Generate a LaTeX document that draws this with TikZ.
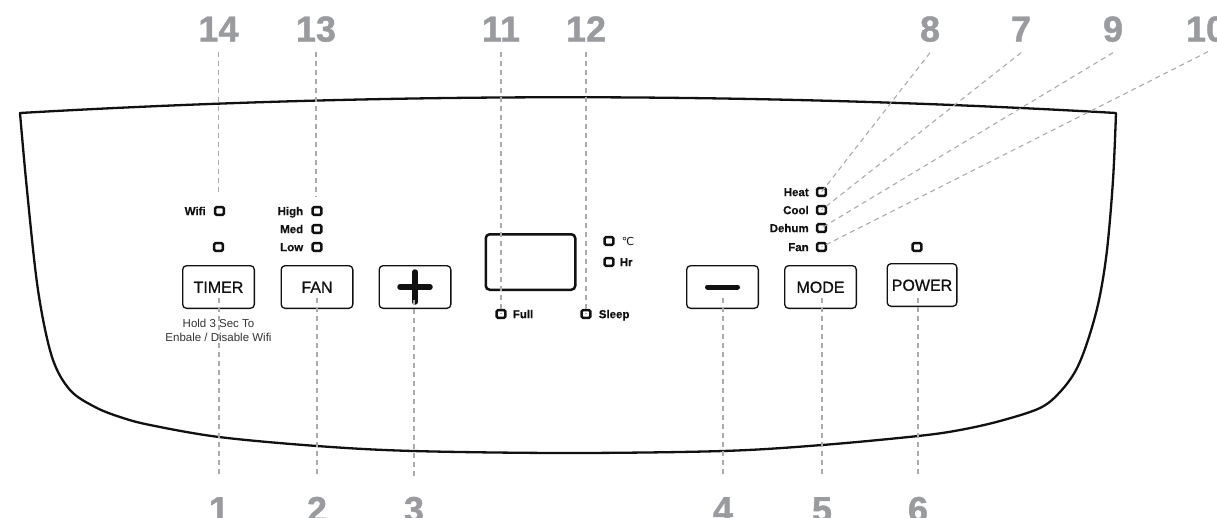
\documentclass[tikz,border=0pt]{standalone}
\usepackage{fontspec}
\setmainfont{Liberation Sans}
\newfontfamily\dejavu{DejaVu Sans}
\newfontfamily\numfont[FakeBold=1.2]{Liberation Sans Bold}
\newfontfamily\btnfont[FakeBold=0.9]{Liberation Sans}
\newfontfamily\lblfont[FakeBold=0.4]{Liberation Sans Bold}
\usetikzlibrary{calc}
\definecolor{numgray}{HTML}{9A9B9F}
\definecolor{leadgray}{HTML}{ABABAB}
\definecolor{ink}{HTML}{111111}
\definecolor{hintgray}{HTML}{333333}
\begin{document}
\begin{tikzpicture}[x=1pt,y=-1pt,
  num/.style={font=\numfont\fontsize{36}{36}\selectfont, text=numgray, inner sep=0pt, text height=26pt, text depth=0pt},
  lead/.style={draw=leadgray, line width=1.1pt, dash pattern=on 5pt off 4pt},
  led/.style={draw=ink, line width=2.4pt, rounded corners=1.4pt, minimum width=8.8pt, minimum height=7.8pt, inner sep=0pt},
  ledlbl/.style={font=\lblfont\fontsize{11.5}{12}\selectfont, text=ink, inner sep=0pt, text height=8.3pt, text depth=0pt},
  hint/.style={font=\fontsize{11.5}{12}\selectfont, text=hintgray, inner sep=0pt, anchor=base},
  btn/.style={draw=ink, line width=1.3pt, rounded corners=4pt, minimum width=71.7pt, minimum height=42.7pt, inner sep=0pt, font=\btnfont\fontsize{16}{16}\selectfont, text=ink, text height=11.5pt, text depth=0pt},
  bar/.style={draw=ink, line width=5pt, line cap=round},
  disp/.style={draw=ink, line width=2.5pt, rounded corners=4pt, minimum width=89.5pt, minimum height=55.5pt, inner sep=0pt},
  outline/.style={draw=ink, line width=2.3pt, line join=round}
]
\useasboundingbox (0,0) rectangle (1217,517);

% ---- numbers
\node[num] (n14) at (218.5,28.5) {14};
\node[num] (n13) at (316,28.5) {13};
\node[num] (n11) at (501,28.5) {11};
\node[num] (n12) at (586,28.5) {12};
\node[num] (n8) at (930,28.5) {8};
\node[num] (n7) at (1021,28.5) {7};
\node[num] (n9) at (1113,28.5) {9};
\node[num] (n10) at (1206,28.5) {10};
\node[num] (n1) at (219,509) {1};
\node[num] (n2) at (317,509) {2};
\node[num] (n3) at (414,509) {3};
\node[num] (n4) at (723,509) {4};
\node[num] (n5) at (822,509) {5};
\node[num] (n6) at (918,509) {6};

% ---- panel outline
\draw[outline] (20,113) .. controls (385,92) and (751,92) .. (1116,113)
  -- plot[smooth, tension=0.55] coordinates {(1116,113) (1113,180) (1107,250) (1099,300) (1088,340) (1076,370) (1060,392) (1040,408) (1000,421) (960,430) (918,436) (822,445) (723,451) (568,453) (413,451) (317,446) (219,437) (150,425) (120,417) (95,407) (70,390) (52,357) (38,290) (27,190) (20,113)}
  -- cycle;

% ---- LEDs
\node[led] (wifi) at (219.5,211) {};
\node[led] (tled) at (218.5,247) {};
\node[led] (high) at (317,211) {};
\node[led] (med) at (317,229) {};
\node[led] (low) at (317,247) {};
\node[led] (degc) at (609,241) {};
\node[led] (hr) at (609,262) {};
\node[led] (full) at (501,314) {};
\node[led] (sleep) at (586,314) {};
\node[led] (heat) at (821.5,192) {};
\node[led] (cool) at (821.5,210) {};
\node[led] (dehum) at (821.5,228) {};
\node[led] (fanm) at (821.5,247) {};
\node[led] (pled) at (917,247) {};

% ---- LED labels
\node[ledlbl, anchor=east] at ($(wifi.west)+(-8,0)$) {Wifi};
\node[ledlbl, anchor=east] at ($(high.west)+(-8,0)$) {High};
\node[ledlbl, anchor=east] at ($(med.west)+(-8,0)$) {Med};
\node[ledlbl, anchor=east] at ($(low.west)+(-8,0)$) {Low};
\node[ledlbl, anchor=east] at ($(heat.west)+(-7,0)$) {Heat};
\node[ledlbl, anchor=east] at ($(cool.west)+(-7,0)$) {Cool};
\node[ledlbl, anchor=east] at ($(dehum.west)+(-7,0)$) {Dehum};
\node[ledlbl, anchor=east] at ($(fanm.west)+(-7,0)$) {Fan};
\node[ledlbl, anchor=west, font=\dejavu\fontsize{11}{11}\selectfont] at ($(degc.east)+(7,0)$) {℃};
\node[ledlbl, anchor=west] at ($(hr.east)+(5,0)$) {Hr};
\node[ledlbl, anchor=west] at ($(full.east)+(6,0)$) {Full};
\node[ledlbl, anchor=west] at ($(sleep.east)+(7,0)$) {Sleep};

% ---- buttons
\node[btn] (timer) at (218.5,287) {TIMER};
\node[btn] (fan) at (317,287) {FAN};
\node[btn] (plus) at (415,287) {};
\node[btn] (minus) at (722.5,287) {};
\node[btn] (mode) at (820.5,287) {MODE};
\node[btn, minimum width=69.7pt] (power) at (922,285) {POWER};
\draw[bar, line width=5.5pt] ($(plus.center)+(-15,0)$) -- ($(plus.center)+(15,0)$);
\draw[bar, line width=5.5pt] ($(plus.center)+(0,-15)$) -- ($(plus.center)+(0,15)$);
\draw[bar] ($(minus.center)+(-15,0)$) -- ($(minus.center)+(15,0)$);

% ---- display
\node[disp] (display) at (530.5,262) {};

% ---- hint text
\node[hint] (hold1) at (218.5,327) {Hold 3 Sec To};
\node[hint] (hold2) at (218.5,341) {Enbale / Disable Wifi};

% ---- leader lines
\draw[lead] ($(n14.south)+(0,10)$) -- ($(n14.south |- wifi.north)+(0,-11)$);
\draw[lead] ($(n13.south)+(0,10)$) -- ($(n13.south |- high.north)+(0,-9)$);
\draw[lead] ($(n11.south)+(0,10)$) -- (full.center);
\draw[lead] ($(n12.south)+(0,10)$) -- (sleep.center);
\draw[lead] ($(n8.south)+(0,11)$) -- (heat.center);
\draw[lead] ($(n7.south)+(0,11)$) -- (cool.center);
\draw[lead] ($(n9.south)+(0,11)$) -- (dehum.center);
\draw[lead] ($(n10.south)+(2,10)$) -- (fanm.center);
\draw[lead] ($(n1.north |- timer.center)+(0,11)$) -- ($(n1.north)+(0,-18)$);
\draw[lead] ($(n2.north |- fan.center)+(0,11)$) -- ($(n2.north)+(0,-18)$);
\draw[lead] ($(n3.north |- plus.center)+(0,13)$) -- ($(n3.north)+(0,-18)$);
\draw[lead] ($(n4.north |- minus.center)+(0,11)$) -- ($(n4.north)+(0,-18)$);
\draw[lead] ($(n5.north |- mode.center)+(0,11)$) -- ($(n5.north)+(0,-18)$);
\draw[lead] ($(n6.north |- power.center)+(0,13)$) -- ($(n6.north)+(0,-18)$);
\end{tikzpicture}
\end{document}
